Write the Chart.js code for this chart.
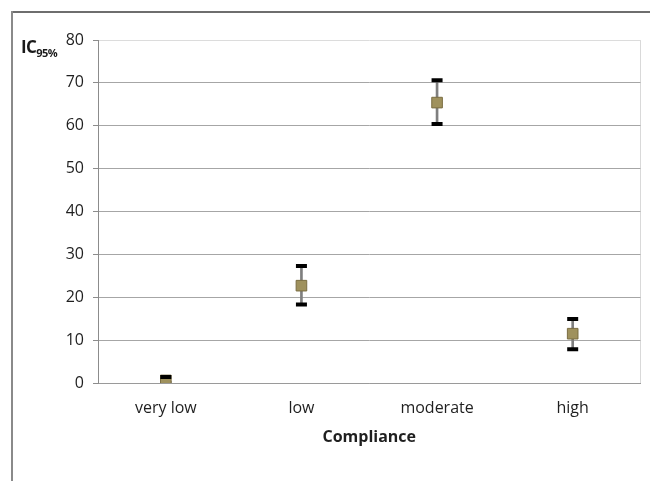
<!DOCTYPE html>
<html>
<head>
<meta charset="utf-8">
<script src="https://cdn.jsdelivr.net/npm/chart.js@4"></script>
<style>
  html, body { margin: 0; padding: 0; background: #fff; }
  #wrap { position: relative; width: 650px; height: 481px; overflow: hidden; }
  #frameTop { position: absolute; left: 11px; top: 11px; width: 650px; height: 2px; background: #6e6e6e; }
  #frameLeft { position: absolute; left: 11px; top: 11px; width: 2px; height: 480px; background: #8a8a8a; }
  #ylab { position: absolute; left: 21px; top: 35px; font-family: "Open Sans", sans-serif; font-weight: bold; font-size: 17px; color: #1a1a1a; letter-spacing: -0.6px; }
  #ylab sub { font-size: 11px; vertical-align: -4px; }
  canvas { position: absolute; left: 0; top: 0; }
</style>
</head>
<body>
<div id="wrap">
  <canvas id="c" width="650" height="481"></canvas>
  <div id="frameTop"></div>
  <div id="frameLeft"></div>
  <div id="ylab">IC<sub>95%</sub></div>
</div>
<script>
const categories = ['very low', 'low', 'moderate', 'high'];
const means = [0.6, 22.7, 65.4, 11.5];
const lower = [0.0, 18.3, 60.4, 7.9];
const upper = [1.4, 27.3, 70.6, 14.9];
const yTicks = [0, 10, 20, 30, 40, 50, 60, 70, 80];
const xTitle = 'Compliance';

const FONT = '"Open Sans", sans-serif';
const TXT = '#1f1f1f';

new Chart(document.getElementById('c'), {
  type: 'bar',
  data: {
    labels: categories,
    datasets: [
      {
        type: 'line',
        data: upper,
        showLine: false,
        pointStyle: 'line',
        pointRadius: 5.5,
        pointBorderColor: '#000',
        pointBorderWidth: 4,
        order: 0
      },
      {
        type: 'line',
        data: lower,
        showLine: false,
        pointStyle: 'line',
        pointRadius: 5.5,
        pointBorderColor: '#000',
        pointBorderWidth: 4,
        order: 1
      },
      {
        type: 'line',
        data: means,
        showLine: false,
        pointStyle: 'rect',
        pointRadius: 7.5,
        pointBackgroundColor: '#9f915d',
        pointBorderColor: '#7a6d42',
        pointBorderWidth: 1,
        order: 0.5
      },
      {
        type: 'bar',
        data: categories.map((c, i) => [lower[i], upper[i]]),
        backgroundColor: '#7f7f7f',
        barThickness: 2,
        order: 2
      }
    ]
  },
  options: {
    responsive: false,
    animation: false,
    events: [],
    layout: { padding: { left: 0, right: 7, top: 40, bottom: 0 } },
    plugins: { legend: { display: false }, tooltip: { enabled: false } },
    scales: {
      x: {
        afterFit: (s) => { s.height = 98; },
        grid: {
          drawTicks: false,
          color: (ctx) => ctx.type === 'scale' || ctx.index === undefined ? '#d9d9d9' : 'rgba(0,0,0,0)',
          lineWidth: 1
        },
        border: { color: '#9a9a9a', width: 1 },
        ticks: { color: TXT, font: { family: FONT, size: 16 }, padding: 16 },
        title: {
          display: true,
          text: xTitle,
          color: TXT,
          font: { family: FONT, size: 16, weight: 'bold' },
          padding: { top: 0, bottom: 34 }
        }
      },
      y: {
        min: 0,
        max: 80,
        afterFit: (s) => { s.width = 98; },
        afterBuildTicks: (s) => { s.ticks = yTicks.map(v => ({ value: v })); },
        grid: {
          color: (ctx) => ctx.tick && ctx.tick.value === 80 ? '#dcdcdc' : '#a6a6a6',
          tickColor: '#8c8c8c',
          tickLength: 5,
          lineWidth: 1
        },
        border: { color: '#8c8c8c', width: 1 },
        ticks: { color: TXT, font: { family: FONT, size: 16 }, padding: 9 }
      }
    }
  }
});
</script>
</body>
</html>
